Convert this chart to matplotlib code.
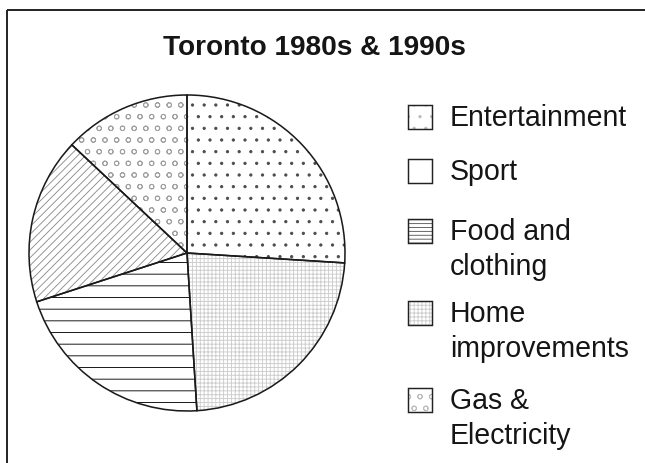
import matplotlib.pyplot as plt
from matplotlib.patches import Rectangle

plt.rcParams['font.family'] = ['Liberation Sans', 'DejaVu Sans']
plt.rcParams['hatch.linewidth'] = 0.9

title = 'Toronto 1980s & 1990s'
categories = ['Entertainment', 'Sport', 'Food and\nclothing',
              'Home\nimprovements', 'Gas &\nElectricity']
shares = [26, 17, 21, 23, 13]
# slices go clockwise from twelve o'clock in this order
pie_order = [0, 3, 2, 1, 4]

hatches = ['.', '///', '-', '+++', 'o']
hatch_colors = ['#4a4a4a', '#8c8c8c', 'black', '#cccccc', '#a0a0a0']
legend_hatches = ['.', '', '---', '+++', 'o']
legend_colors = ['#bbbbbb', 'white', '#555555', '#cccccc', '#bbbbbb']

W, H, DPI = 645, 463, 70
fig = plt.figure(figsize=(W / DPI, H / DPI), dpi=DPI)
ax = fig.add_axes([0, 0, 1, 1])

cx, cy, r = 187, H - 253, 158
vals = [shares[i] for i in pie_order]

# first pass: hatched fills, hatch colour comes from the edgecolor
fills, _ = ax.pie(vals, center=(cx, cy), radius=r, startangle=90,
                  counterclock=False, frame=True,
                  wedgeprops=dict(facecolor='white', linewidth=0))
for w, i in zip(fills, pie_order):
    w.set_hatch(hatches[i])
    w.set_edgecolor(hatch_colors[i])

# second pass: black outlines
ax.pie(vals, center=(cx, cy), radius=r, startangle=90,
       counterclock=False, frame=True,
       wedgeprops=dict(fill=False, edgecolor='#1a1a1a', linewidth=1.6))

ax.set_xlim(0, W)
ax.set_ylim(0, H)
ax.axis('off')

fs = 28.5 * 72 / DPI
ax.text(314, H - 55, title, ha='center', va='baseline',
        fontsize=28 * 72 / DPI, fontweight='bold', color='#151515')

# legend drawn by hand so boxes line up with the first line of each label
box_tops = [105, 159, 219, 301, 388]
box = 24
line_step = 35
for top, lab, hat, col in zip(box_tops, categories, legend_hatches, legend_colors):
    y0 = H - top - box
    ax.add_patch(Rectangle((408, y0), box, box, facecolor='white',
                           edgecolor=col, linewidth=0, hatch=hat))
    ax.add_patch(Rectangle((408, y0), box, box, fill=False,
                           edgecolor='#222222', linewidth=1.5))
    for k, line in enumerate(lab.split('\n')):
        ax.text(450, H - top - 21 - k * line_step, line, ha='left',
                va='baseline', fontsize=fs, color='#151515')

# page frame on the left and top
ax.plot([7, 7], [0, H - 10], color='#222222', lw=2, solid_capstyle='butt')
ax.plot([7, W], [H - 10, H - 10], color='#222222', lw=2, solid_capstyle='butt')

fig.savefig('out.png', dpi=DPI)
